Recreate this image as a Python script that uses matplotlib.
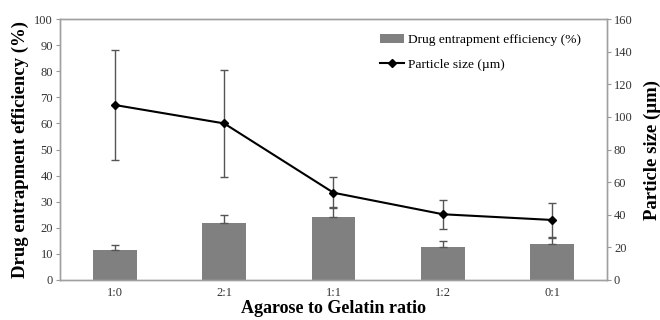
import matplotlib
matplotlib.use("Agg")
import matplotlib.pyplot as plt
from matplotlib.lines import Line2D
import numpy as np

categories = ["1:0", "2:1", "1:1", "1:2", "0:1"]
efficiency = [11.5, 21.8, 24.3, 12.8, 13.8]
efficiency_err = [1.9, 3.2, 3.7, 2.2, 2.2]
particle_size = [107.3, 96.0, 53.5, 40.3, 36.8]
particle_err = [34.0, 32.6, 9.6, 9.0, 10.5]

plt.rcParams['font.family'] = ['Liberation Serif', 'DejaVu Serif']

fig = plt.figure(figsize=(6.6, 3.2), dpi=100)
ax = fig.add_axes([0.0909, 0.125, 0.8288, 0.8156])
x = np.arange(len(categories))
ax.bar(x, efficiency, width=0.4, color="#808080",
       yerr=[np.zeros(len(efficiency_err)), efficiency_err],
       error_kw=dict(ecolor="#555555", elinewidth=1, capsize=3, capthick=1),
       label="Drug entrapment efficiency (%)", zorder=2)
ax.set_ylim(0, 100)
ax.set_xlim(-0.5, 4.5)
ax.set_yticks(np.arange(0, 101, 10))
ax.set_xticks(x)
ax.set_xticklabels(categories)
ax.tick_params(axis='x', length=0, labelsize=9, pad=5, colors="#333333")
ax.tick_params(axis='y', length=3, labelsize=9, width=0.8, colors="#999999", labelcolor="#333333", pad=2)
for s in ax.spines.values():
    s.set_color("#a0a0a0")
    s.set_linewidth(1)
ax.set_ylabel("Drug entrapment efficiency (%)", fontsize=13.5, fontweight="bold", labelpad=4)
ax.set_xlabel("Agarose to Gelatin ratio", fontsize=13, fontweight="bold", labelpad=1)

ax2 = ax.twinx()
ax2.errorbar(x, particle_size, yerr=particle_err, color="black", marker="D", markersize=4.5,
             linewidth=1.5, ecolor="#555555", elinewidth=1, capsize=3, capthick=1, zorder=3)
ax2.set_ylim(0, 160)
ax2.set_yticks(np.arange(0, 161, 20))
ax2.tick_params(axis='y', length=3, labelsize=9, width=0.8, colors="#999999", labelcolor="#333333", pad=2)
for s in ax2.spines.values():
    s.set_color("#a0a0a0")
    s.set_linewidth(1)
ax2.set_ylabel("Particle size (\u00b5m)", fontsize=13.5, fontweight="bold", labelpad=8)

h1, l1 = ax.get_legend_handles_labels()
line_handle = Line2D([], [], color="black", marker="D", markersize=4.5, linewidth=1.5)
ax2.legend(h1 + [line_handle], l1 + ["Particle size (\u00b5m)"], loc="upper right", frameon=False,
           fontsize=9.7, bbox_to_anchor=(0.962, 0.965), handlelength=1.8, handletextpad=0.3,
           labelspacing=0.95, borderaxespad=0)

fig.savefig("out.png", dpi=100)
